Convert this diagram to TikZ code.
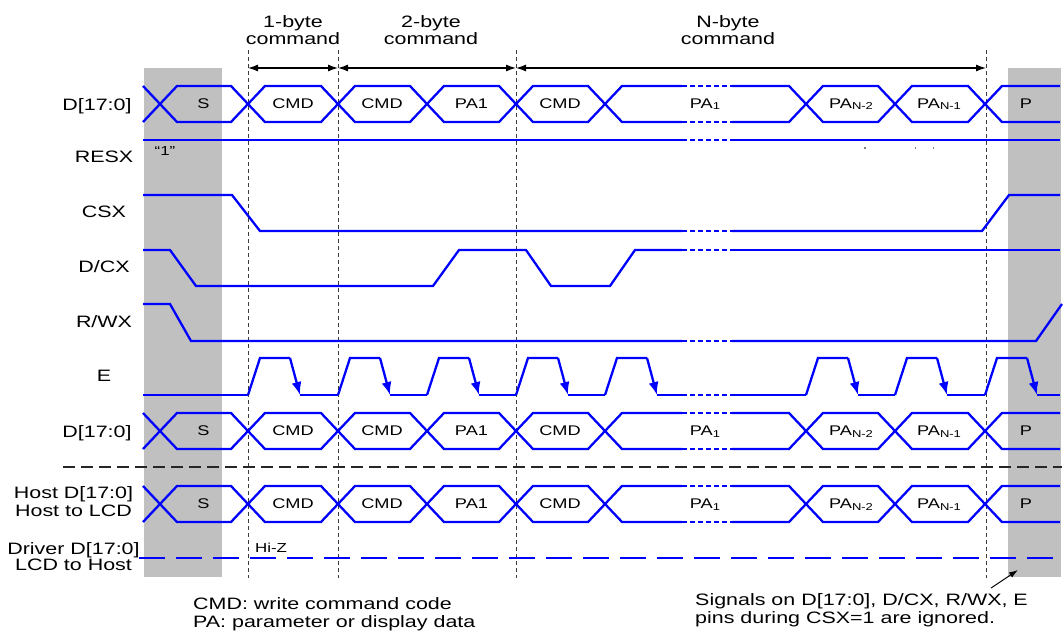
\documentclass[tikz,border=0pt]{standalone}
\usepackage{fontspec}
\setmainfont[FakeStretch=1.3]{Liberation Sans}
\usetikzlibrary{arrows.meta}
\definecolor{sig}{RGB}{0,0,255}
\definecolor{greyzone}{RGB}{192,192,192}
\definecolor{guide}{RGB}{60,60,60}

% one zig-zag half of a bus row: #1 = level at the left end, #2 = other level
\newcommand{\buszig}[2]{%
  \draw[sigline] (143,#1)--(177,#2)--(231,#2)--(265,#1)--(321,#1)--(355,#2)--(410,#2)--(444,#1)--(499,#1)--(533,#2)--(588,#2)--(622,#1)--(682,#1);
  \draw[sigdot] (682,#1)--(732,#1);
  \draw[sigline] (732,#1)--(789,#1)--(823,#2)--(878,#2)--(912,#1)--(968,#1)--(1002,#2)--(1060,#2);
}
\newcommand{\busrow}[2]{\buszig{#1}{#2}\buszig{#2}{#1}}

\begin{document}
\begin{tikzpicture}[x=1pt,y=-1pt,
  sigline/.style={draw=sig,line width=2.3pt,line join=miter,line cap=butt},
  sigdot/.style={draw=sig,line width=2.3pt,line cap=butt,dash pattern=on 5pt off 3pt},
  guideline/.style={draw=guide,line width=0.9pt,dash pattern=on 4pt off 3pt},
  dimarrow/.style={draw=black,line width=1.2pt,{Latex[length=10pt,width=7pt]}-{Latex[length=10pt,width=7pt]}},
  siglab/.style={font=\fontsize{16.5}{18}\selectfont,inner sep=0pt,anchor=base},
  datalab/.style={font=\fontsize{14}{16}\selectfont,inner sep=0pt,anchor=base},
  notelab/.style={font=\fontsize{16.5}{18}\selectfont,inner sep=0pt,anchor=base west},
  etip/.style={-{Latex[length=13pt,width=10pt]}}
]
\useasboundingbox (0,0) rectangle (1064,631);
\fill[white] (0,0) rectangle (1064,631);

% grey regions (CSX=1)
\fill[greyzone] (144,68) rectangle (222,577);
\fill[greyzone] (1008,68) rectangle (1061,577);

% vertical guide lines
\coordinate (g1t) at (248,50); \coordinate (g1b) at (248,578);
\coordinate (g2t) at (338,50); \coordinate (g2b) at (338,578);
\coordinate (g3t) at (516,50); \coordinate (g3b) at (516,578);
\coordinate (g4t) at (986,50); \coordinate (g4b) at (986,578);
\draw[guideline] (g1t)--(g1b) (g2t)--(g2b) (g3t)--(g3b) (g4t)--(g4b);

% command span arrows
\coordinate (a1) at (248,68); \coordinate (a2) at (338,68);
\coordinate (a3) at (516,68); \coordinate (a4) at (986,68);
\draw[dimarrow] (a1)--(a2);
\draw[dimarrow] (a2)--(a3);
\draw[dimarrow] (a3)--(a4);

% top labels
\node[siglab] (t1a) at (293,28) {1-byte};
\node[siglab] (t1b) at (293,45) {command};
\node[siglab] (t2a) at (431,28) {2-byte};
\node[siglab] (t2b) at (431,45) {command};
\node[siglab] (t3a) at (728,28) {N-byte};
\node[siglab] (t3b) at (728,45) {command};

% signal names
\node[siglab] (lD1) at (97,110.5) {D[17:0]};
\node[siglab] (lRES) at (104,163) {RESX};
\node[siglab] (lCS) at (104,217.5) {CSX};
\node[siglab] (lDC) at (104,272) {D/CX};
\node[siglab] (lRW) at (104,327) {R/WX};
\node[siglab] (lE) at (104,381) {E};
\node[siglab] (lD2) at (97,437.5) {D[17:0]};
\node[siglab] (lH1) at (73.5,498) {Host D[17:0]};
\node[siglab] (lH2) at (73.5,516) {Host to LCD};
\node[siglab] (lDr1) at (73.5,554) {Driver D[17:0]};
\node[siglab] (lDr2) at (73.5,570.5) {LCD to Host};

% D[17:0] row 1, row 2, host row
\busrow{86}{122}
\busrow{413}{449}
\busrow{486}{522}

% data labels
\foreach \T/\n in {108.5/a,435.5/b,508.5/c}{
  \node[datalab] (S\n) at (203.5,\T) {S};
  \node[datalab] (C1\n) at (293,\T) {CMD};
  \node[datalab] (C2\n) at (382,\T) {CMD};
  \node[datalab] (P1\n) at (471.5,\T) {PA1};
  \node[datalab] (C3\n) at (560,\T) {CMD};
  \node[datalab] (Q1\n) at (705,\T) {PA\raisebox{-1.5pt}{\fontsize{10}{10}\selectfont 1}};
  \node[datalab] (Q2\n) at (851,\T) {PA\raisebox{-1.5pt}{\fontsize{10}{10}\selectfont N-2}};
  \node[datalab] (Q3\n) at (939,\T) {PA\raisebox{-1.5pt}{\fontsize{10}{10}\selectfont N-1}};
  \node[datalab] (Pe\n) at (1026,\T) {P};
}

% RESX
\draw[sigline] (143,140)--(682,140);
\draw[sigdot] (682,140)--(732,140);
\draw[sigline] (732,140)--(1060,140);
\node[datalab,font=\fontsize{13}{15}\selectfont] (one) at (165,155.5) {“1”};
\fill[gray] (864,147.5) rectangle +(1.5,1.5);
\fill[gray] (914.5,147.5) rectangle +(1.5,1.5);
\fill[gray] (932.5,147.5) rectangle +(1.5,1.5);

% CSX
\draw[sigline] (143,195)--(232,195)--(260,231)--(682,231);
\draw[sigdot] (682,231)--(732,231);
\draw[sigline] (732,231)--(982,231)--(1009,195)--(1060,195);

% D/CX
\draw[sigline] (143,250)--(170,250)--(196,286)--(433,286)--(459,250)--(526,250)--(551,286)--(610,286)--(635,250)--(682,250);
\draw[sigdot] (682,250)--(732,250);
\draw[sigline] (732,250)--(1060,250);

% R/WX
\draw[sigline] (143,304)--(170,304)--(191,341)--(682,341);
\draw[sigdot] (682,341)--(732,341);
\draw[sigline] (732,341)--(1036,341)--(1062,304);

% E
\foreach \c in {248,338,427,516,605,806,895,985}{
  \draw[sigline] (\c,395)--(\c+12,358)--(\c+42,358);
  \draw[sigline,etip] (\c+42,358)--(\c+52,395);
}
\draw[sigline] (143,395)--(248,395) (300,395)--(338,395) (390,395)--(427,395)
  (479,395)--(516,395) (568,395)--(605,395) (657,395)--(682,395)
  (732,395)--(806,395) (858,395)--(895,395) (947,395)--(985,395) (1037,395)--(1060,395);
\draw[sigdot] (682,395)--(732,395);

% separator
\coordinate (sepL) at (63,467); \coordinate (sepR) at (1062,467);
\draw[draw=black!85,line width=1.2pt,dash pattern=on 12pt off 6pt] (sepL)--(sepR);

% driver Hi-Z
\coordinate (hzL) at (139,558); \coordinate (hzR) at (1062,558);
\draw[draw=sig,line width=2.3pt,dash pattern=on 26pt off 11pt] (hzL)--(hzR);
\node[datalab,font=\fontsize{13}{15}\selectfont] (hiz) at (271,552.5) {Hi-Z};

% notes
\node[notelab] (n1) at (193,609) {CMD: write command code};
\node[notelab] (n2) at (193,627) {PA: parameter or display data};
\node[notelab] (n3) at (695,605) {Signals on D[17:0], D/CX, R/WX, E};
\node[notelab] (n4) at (695,623) {pins during CSX=1 are ignored.};
\coordinate (na) at (991,588); \coordinate (nb) at (1018,570);
\draw[line width=1pt,-{Latex[length=9pt,width=6pt]}] (na)--(nb);
\end{tikzpicture}
\end{document}
